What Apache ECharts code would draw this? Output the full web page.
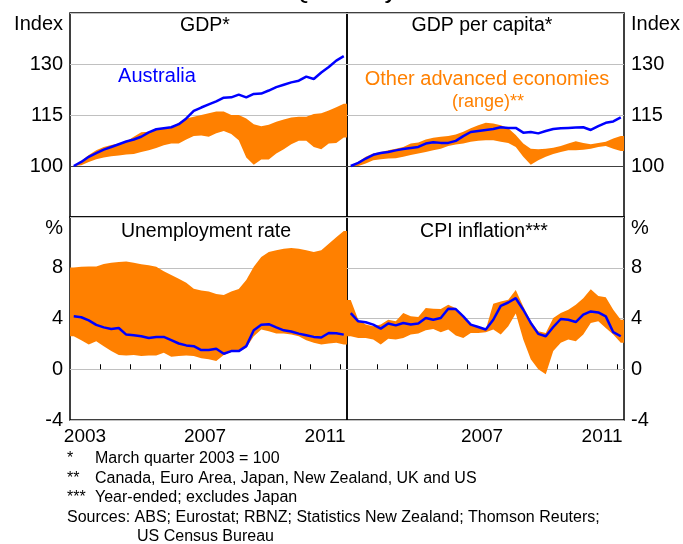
<!DOCTYPE html>
<html>
<head>
<meta charset="utf-8">
<script src="https://cdn.jsdelivr.net/npm/echarts@6/dist/echarts.min.js"></script>
<style>
  body { margin: 0; background: #fff; }
  #chart { width: 683px; height: 544px; }
</style>
</head>
<body>
<div id="chart"></div>
<script>
  // quarterly, March 2003 .. March 2012 (37 quarters)
  const gdpAus = [100, 101.2, 102.7, 103.8, 104.8, 105.6, 106.4, 107.2, 107.8, 108.6, 109.9, 110.8, 111.1, 111.4, 112.3, 114.0, 116.2, 117.2, 118.1, 119.0, 120.1, 120.2, 121.0, 120.2, 121.2, 121.3, 122.2, 123.2, 123.9, 124.6, 125.1, 126.3, 125.6, 127.5, 129.1, 131.0, 132.3]
  const gdpHigh = [100, 101.5, 103.2, 104.6, 105.6, 106.2, 106.6, 107.2, 108.6, 109.9, 110.1, 110.8, 111.1, 111.5, 112.7, 114.0, 114.5, 115.0, 115.5, 116.0, 116.0, 115.0, 115.0, 114.0, 112.3, 111.7, 112.1, 113.0, 113.7, 114.3, 114.5, 114.5, 115.3, 115.5, 116.3, 117.3, 118.3]
  const gdpLow = [100, 100.2, 101.2, 102.0, 102.5, 102.9, 103.1, 103.4, 103.5, 104.1, 104.6, 105.3, 106.1, 106.6, 106.6, 107.8, 108.8, 109.0, 108.6, 109.6, 110.3, 109.4, 107.6, 102.5, 100.4, 101.9, 101.9, 103.7, 104.9, 106.4, 107.4, 107.4, 105.6, 104.9, 106.6, 106.8, 108.4]

  const gdpcAus = [100, 100.9, 102.2, 103.3, 103.8, 104.1, 104.6, 105.0, 105.3, 105.6, 106.6, 107.0, 106.8, 106.8, 107.4, 108.8, 110.0, 110.3, 110.6, 110.9, 111.4, 111.2, 111.2, 109.8, 110.0, 109.6, 110.3, 110.9, 111.1, 111.2, 111.3, 111.4, 110.6, 111.7, 112.7, 113.1, 114.3]
  const gdpcHigh = [100, 101.2, 102.7, 103.7, 104.1, 104.6, 105.1, 105.6, 106.6, 106.9, 107.8, 108.3, 108.6, 108.8, 109.3, 110.1, 111.1, 112.0, 112.7, 112.5, 112.0, 111.1, 109.1, 106.6, 105.1, 104.9, 105.1, 105.4, 105.9, 106.6, 107.3, 106.8, 106.4, 106.8, 107.1, 108.1, 108.8]
  const gdpcLow = [100, 100, 100.7, 101.7, 102.0, 102.2, 102.3, 102.7, 103.2, 103.7, 104.1, 104.6, 105.1, 105.9, 106.3, 106.6, 107.1, 107.4, 107.6, 107.6, 107.1, 106.8, 105.6, 102.7, 100.4, 101.7, 102.7, 103.5, 104.1, 104.6, 104.6, 104.8, 105.1, 105.6, 105.9, 105.1, 104.4]

  const unAus = [4.17, 4.1, 3.85, 3.5, 3.3, 3.18, 3.25, 2.73, 2.68, 2.6, 2.47, 2.55, 2.55, 2.3, 2.03, 1.88, 1.82, 1.51, 1.51, 1.61, 1.22, 1.43, 1.43, 1.82, 3.07, 3.5, 3.55, 3.3, 3.07, 2.97, 2.81, 2.68, 2.55, 2.5, 2.86, 2.84, 2.73]
  const unHigh = [8.02, 8.07, 8.1, 8.1, 8.3, 8.4, 8.46, 8.5, 8.4, 8.28, 8.2, 8.07, 7.73, 7.42, 7.14, 6.82, 6.35, 6.2, 6.12, 5.94, 5.86, 6.12, 6.33, 7.03, 8.07, 8.85, 9.24, 9.38, 9.5, 9.56, 9.5, 9.38, 9.24, 9.38, 9.9, 10.4, 10.9]
  const unLow = [2.6, 2.29, 1.95, 2.21, 1.82, 1.43, 1.12, 1.09, 1.12, 1.04, 1.09, 1.09, 1.3, 0.99, 1.04, 1.09, 1.04, 0.86, 0.78, 0.65, 1.12, 1.35, 1.38, 1.69, 2.6, 3.13, 3.0, 2.81, 2.81, 2.73, 2.6, 2.29, 2.08, 1.95, 2.03, 2.08, 1.95]

  const cpiAus = [4.43, 3.78, 3.7, 3.52, 3.2, 3.6, 3.46, 3.65, 3.52, 3.6, 4.04, 3.9, 4.04, 4.77, 4.74, 4.17, 3.52, 3.33, 3.13, 3.9, 5.0, 5.26, 5.6, 4.69, 3.65, 2.79, 2.6, 3.33, 3.96, 3.9, 3.72, 4.3, 4.56, 4.48, 4.17, 2.92, 2.6]
  const cpiHigh = [5.45, 3.9, 3.52, 3.39, 3.52, 3.9, 3.78, 4.43, 4.17, 4.11, 4.82, 4.77, 4.74, 5.08, 4.8, 4.17, 3.52, 3.4, 3.13, 5.16, 5.34, 5.47, 6.25, 4.95, 3.78, 3.0, 2.86, 4.04, 4.43, 4.69, 5.08, 5.6, 6.3, 5.78, 5.68, 4.69, 3.9]
  const cpiLow = [2.6, 2.47, 2.47, 2.34, 1.95, 2.4, 2.34, 2.47, 2.73, 2.81, 3.07, 3.18, 2.92, 3.13, 2.66, 2.47, 2.86, 2.86, 2.92, 3.13, 2.73, 3.39, 4.4, 2.34, 0.78, 0.0, -0.4, 1.43, 2.08, 2.34, 2.21, 2.73, 3.65, 3.78, 3.26, 2.73, 2.08]

  const yearTicks = [4, 8, 12, 16, 20, 24, 28, 32, 36] // year boundaries, in quarters from 2003
  const yearLabelsLeft = [2, 18, 34] // middle of 2003, 2007, 2011
  const yearLabelsRight = [18, 34]
  const indexTicks = { min: 85, max: 145, interval: 15 }
  const pctTicks = { min: -4, max: 12, interval: 4 }

  const ORANGE = '#ff8000'
  const BLUE = '#0000ff'
  const FONT = '"Liberation Sans", Arial, sans-serif'

  const pts = arr => arr.map((v, i) => [i + 0.5, v])

  const grids = [
    { left: 70, top: 13, width: 277, height: 204 },
    { left: 347, top: 13, width: 277, height: 204 },
    { left: 70, top: 217, width: 277, height: 203 },
    { left: 347, top: 217, width: 277, height: 203 },
  ].map(g => Object.assign(g, { show: true, borderColor: '#000', borderWidth: 1.5, containLabel: false }))

  function xAxis (idx, labels) {
    const bottom = idx >= 2
    return {
      type: 'value',
      gridIndex: idx,
      min: 0,
      max: 36.93,
      axisLine: { show: false },
      splitLine: { show: false },
      axisTick: {
        show: bottom,
        inside: true,
        length: 5,
        customValues: yearTicks,
        lineStyle: { color: '#000', width: 1 },
      },
      axisLabel: {
        show: bottom,
        customValues: labels || [],
        formatter: v => String(2003 + (v - 2) / 4),
        fontSize: 19,
        fontFamily: FONT,
        color: '#000',
        margin: 7,
      },
    }
  }

  function yAxis (idx, ticks, right) {
    return {
      type: 'value',
      gridIndex: idx,
      position: right ? 'right' : 'left',
      min: ticks.min,
      max: ticks.max,
      interval: ticks.interval,
      axisLine: { show: false },
      axisTick: { show: false },
      splitLine: { lineStyle: { color: '#c0c0c0', width: 1 } },
      axisLabel: {
        formatter: v => (v === ticks.max || (v === ticks.min && ticks.min > 0)) ? '' : String(v),
        fontSize: 20,
        fontFamily: FONT,
        color: '#000',
        margin: 7,
      },
    }
  }

  // range band drawn as one polygon, high edge forward then low edge back
  function band (idx, hi, lo, baseLine) {
    const data = hi.map((v, i) => [i + 0.5, lo[i], v])
    const s = {
      type: 'custom',
      xAxisIndex: idx,
      yAxisIndex: idx,
      silent: true,
      clip: true,
      encode: { x: 0, y: [1, 2] },
      data: data,
      renderItem: (params, api) => {
        if (params.dataIndex !== 0) return null
        const cs = params.coordSys
        const upper = data.map(d => api.coord([d[0], d[2]]))
        const lower = data.map(d => api.coord([d[0], d[1]]))
        const n = data.length
        const left = cs.x
        const right = cs.x + cs.width
        const points = [[left, upper[0][1]]]
          .concat(upper, [[right, upper[n - 1][1]], [right, lower[n - 1][1]]])
          .concat(lower.slice().reverse(), [[left, lower[0][1]]])
        return {
          type: 'polygon',
          shape: { points: points },
          style: { fill: ORANGE },
        }
      },
      z: 2,
    }
    const out = [s]
    if (baseLine) {
      out.push({
        type: 'line',
        xAxisIndex: idx,
        yAxisIndex: idx,
        data: [],
        markLine: {
          silent: true,
          symbol: ['none', 'none'],
          label: { show: false },
          lineStyle: { color: '#404040', width: 1.2, type: 'solid' },
          data: [{ yAxis: 100 }],
        },
        z: 3,
      })
    }
    return out
  }

  function line (idx, arr) {
    return {
      type: 'line',
      xAxisIndex: idx,
      yAxisIndex: idx,
      data: pts(arr),
      symbol: 'none',
      lineStyle: { color: BLUE, width: 2.5 },
      z: 5,
    }
  }

  function text (t, x, y, opts) {
    return {
      type: 'text',
      x: x,
      y: y,
      style: Object.assign({
        text: t,
        font: '19.5px ' + FONT,
        fill: '#000',
        align: 'center',
        verticalAlign: 'middle',
      }, opts || {}),
    }
  }

  const notes = [
    ['*', 'March quarter 2003 = 100'],
    ['**', 'Canada, Euro Area, Japan, New Zealand, UK and US'],
    ['***', 'Year-ended; excludes Japan'],
  ]
  const noteFont = '16px ' + FONT

  const graphics = [
    text('Quarterly', 344, 4, { font: '26px ' + FONT, verticalAlign: 'bottom' }),
    text('GDP*', 205, 26),
    text('GDP per capita*', 482, 26),
    text('Unemployment rate', 206, 232),
    text('CPI inflation***', 484, 232),
    text('Australia', 157, 76, { fill: BLUE, font: '20px ' + FONT }),
    text('Other advanced economies', 487, 79, { fill: ORANGE, font: '20px ' + FONT }),
    text('(range)**', 488, 102, { fill: ORANGE, font: '18px ' + FONT }),
    text('Index', 63, 24, { align: 'right', font: '20px ' + FONT }),
    text('%', 63, 228, { align: 'right', font: '20px ' + FONT }),
    text('Index', 631, 24, { align: 'left', font: '20px ' + FONT }),
    text('%', 631, 228, { align: 'left', font: '20px ' + FONT }),
  ]
  notes.forEach((n, i) => {
    const y = 459 + i * 19.5
    graphics.push(text(n[0], 67, y, { align: 'left', font: noteFont }))
    graphics.push(text(n[1], 95, y, { align: 'left', font: noteFont }))
  })
  graphics.push(text('Sources: ABS; Eurostat; RBNZ; Statistics New Zealand; Thomson Reuters;', 67, 517.5, { align: 'left', font: noteFont }))
  graphics.push(text('US Census Bureau', 137, 537, { align: 'left', font: noteFont }))

  const chart = echarts.init(document.getElementById('chart'))
  const option = {
    animation: false,
    backgroundColor: '#fff',
    textStyle: { fontFamily: FONT },
    grid: grids,
    xAxis: [xAxis(0), xAxis(1), xAxis(2, yearLabelsLeft), xAxis(3, yearLabelsRight)],
    yAxis: [yAxis(0, indexTicks), yAxis(1, indexTicks, true), yAxis(2, pctTicks), yAxis(3, pctTicks, true)],
    series: [
      ...band(0, gdpHigh, gdpLow, true), line(0, gdpAus),
      ...band(1, gdpcHigh, gdpcLow, true), line(1, gdpcAus),
      ...band(2, unHigh, unLow), line(2, unAus),
      ...band(3, cpiHigh, cpiLow), line(3, cpiAus),
    ],
    graphic: graphics,
  }
  chart.setOption(option)
</script>
</body>
</html>
